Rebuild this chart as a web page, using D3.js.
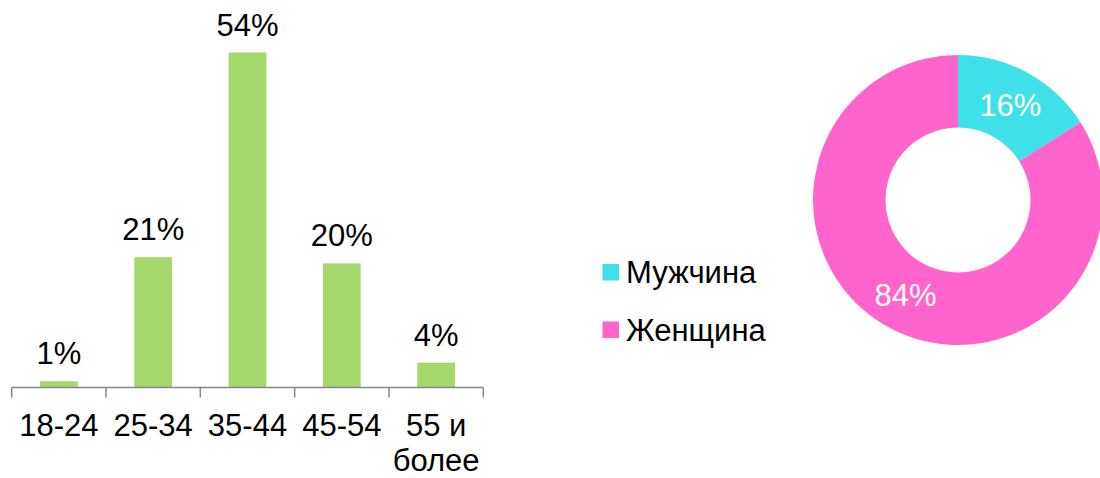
<!DOCTYPE html>
<html>
<head>
<meta charset="utf-8">
<script src="https://cdn.jsdelivr.net/npm/d3@7"></script>
<style>
  body { margin: 0; background: #fff; }
  svg text { font-family: "Liberation Sans", Arial, sans-serif; }
</style>
</head>
<body>
<svg id="chart" width="1100" height="478"></svg>
<script>
// age groups (bar chart)
const ageGroups = ["18-24", "25-34", "35-44", "45-54", "55 и более"];
const ageValues = [1, 21, 54, 20, 4];

// gender (donut)
const genders = ["Мужчина", "Женщина"];
const genderValues = [16, 84];
const genderColors = ["#40E0E8", "#FF63CC"];

const fontSize = 31;

const svg = d3.select("#chart");

// --- bar chart ---
const x = d3.scaleBand()
  .domain(ageGroups)
  .range([11.7, 483.3])
  .paddingInner(0.6)
  .paddingOuter(0.3);

const y = d3.scaleLinear()
  .domain([0, 54])
  .range([387.5, 52.5]);

svg.append("g")
  .selectAll("rect")
  .data(ageValues)
  .join("rect")
  .attr("x", (d, i) => x(ageGroups[i]))
  .attr("width", x.bandwidth())
  .attr("y", d => y(d))
  .attr("height", d => y(0) - y(d))
  .attr("fill", "#A4D76C");

svg.append("g")
  .selectAll("text")
  .data(ageValues)
  .join("text")
  .attr("x", (d, i) => x(ageGroups[i]) + x.bandwidth() / 2)
  .attr("y", d => y(d) - 17)
  .attr("text-anchor", "middle")
  .attr("font-size", fontSize)
  .attr("fill", "#000")
  .text(d => d + "%");

// axis line + ticks at band edges
const step = x.step();
const axisG = svg.append("g").attr("stroke", "#868686").attr("stroke-width", 1.5);
axisG.append("line")
  .attr("x1", x.range()[0]).attr("x2", x.range()[1])
  .attr("y1", y(0)).attr("y2", y(0));
axisG.selectAll("line.tick")
  .data(d3.range(ageGroups.length + 1))
  .join("line")
  .attr("class", "tick")
  .attr("x1", i => x.range()[0] + i * step)
  .attr("x2", i => x.range()[0] + i * step)
  .attr("y1", y(0)).attr("y2", y(0) + 10);

// category labels (wrap the last one)
const catG = svg.append("g");
ageGroups.forEach(name => {
  const cx = x(name) + x.bandwidth() / 2;
  const lines = name === "55 и более" ? ["55 и", "более"] : [name];
  const t = catG.append("text")
    .attr("x", cx)
    .attr("y", 436)
    .attr("text-anchor", "middle")
    .attr("font-size", fontSize)
    .attr("fill", "#000");
  lines.forEach((ln, k) => {
    t.append("tspan").attr("x", cx).attr("dy", k === 0 ? 0 : 35).text(ln);
  });
});

// --- legend ---
const legend = svg.append("g");
genders.forEach((g, i) => {
  const ly = 283 + i * 57.5;
  legend.append("rect")
    .attr("x", 602.5).attr("y", ly - 19)
    .attr("width", 16.5).attr("height", 16.5)
    .attr("fill", genderColors[i]);
  legend.append("text")
    .attr("x", 626).attr("y", ly)
    .attr("font-size", fontSize)
    .attr("fill", "#000")
    .text(g);
});

// --- donut ---
const pie = d3.pie().sort(null).value(d => d);
const arc = d3.arc().innerRadius(72.5).outerRadius(145);
const donut = svg.append("g").attr("transform", "translate(958,200)");
const arcs = pie(genderValues);

donut.selectAll("path")
  .data(arcs)
  .join("path")
  .attr("d", arc)
  .attr("fill", (d, i) => genderColors[i]);

donut.selectAll("text")
  .data(arcs)
  .join("text")
  .attr("transform", d => "translate(" + arc.centroid(d) + ")")
  .attr("text-anchor", "middle")
  .attr("dy", "0.36em")
  .attr("font-size", fontSize)
  .attr("fill", "#fff")
  .text(d => d.data + "%");
</script>
</body>
</html>
